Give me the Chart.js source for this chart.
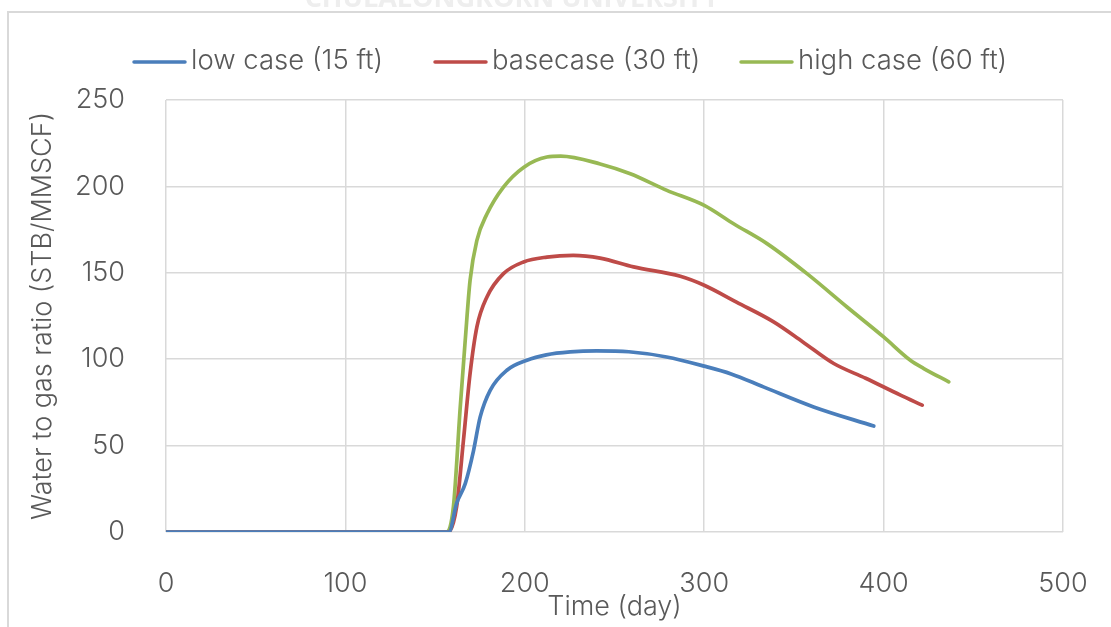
<!DOCTYPE html>
<html>
<head>
<meta charset="utf-8">
<script src="https://cdn.jsdelivr.net/npm/chart.js@4.4.1/dist/chart.umd.min.js"></script>
<style>
  html, body { margin: 0; padding: 0; background: #ffffff; overflow: hidden; }
  #wrap { width: 1111px; height: 627px; position: relative; }
  canvas { display: block; }
</style>
</head>
<body>
<div id="wrap"><canvas id="wgr" width="1111" height="627"></canvas></div>
<script>
// Water-to-gas ratio versus time for three fracture half-length cases
const seriesNames = ['low case (15 ft)', 'basecase (30 ft)', 'high case (60 ft)'];
const seriesColors = ['#4A7EBB', '#BE4B48', '#98B954'];

const lowDays = [0, 60, 120, 157.7, 162, 166.8, 171.4, 175.1, 180.7, 190, 201.2, 212, 225.3, 240, 258, 279, 300, 315, 333, 361, 394.5];
const lowWgr  = [0, 0, 0, 0, 16.6, 28, 47, 66.5, 82, 93.6, 99.4, 102.5, 104.2, 104.8, 104.3, 101.3, 96, 91.5, 84, 72.4, 61.3];

const baseDays = [0, 60, 120, 157.5, 162, 165.8, 169.5, 173.3, 178.9, 188.1, 199.3, 212.3, 227, 242, 260.6, 286.7, 300, 318, 338.7, 355, 372.2, 390, 409.4, 421.5];
const baseWgr  = [0, 0, 0, 0, 14.6, 53, 91.7, 118.7, 136, 149.5, 156.3, 159.1, 160.1, 158.5, 153.4, 148, 142.8, 133, 121.6, 110, 97.5, 89, 79.2, 73.4];

const highDays = [0, 60, 120, 156.5, 160.2, 164, 166.8, 169.5, 173.3, 178.9, 188.1, 199.3, 212.3, 220, 242, 258.8, 279.2, 300, 316.4, 335, 357.3, 379.6, 400, 414.9, 422.4, 436.3];
const highWgr  = [0, 0, 0, 0, 14.6, 72, 111, 145.7, 168.8, 184, 199.6, 211, 217, 217.5, 213, 207.3, 197.7, 189, 178.4, 166.9, 149.5, 130.2, 112.9, 99.4, 94.6, 86.9];

const xTicks = [0, 100, 200, 300, 400, 500];
const yTicks = [0, 50, 100, 150, 200, 250];

const xTitle = 'Time (day)';
const yTitle = 'Water to gas ratio (STB/MMSCF)';
const watermark = 'CHULALONGKORN UNIVERSITY';

const FONT = "Inter, 'Open Sans', 'Liberation Sans', sans-serif";
const FONT_SIZE = 27;
const LEGEND_FONT_SIZE = 27.5;
const TEXT_COLOR = '#595959';
const GRID_COLOR = '#D9D9D9';

function toPoints(days, vals) {
  return days.map((d, i) => ({ x: d, y: vals[i] }));
}

const seriesPoints = [
  toPoints(lowDays, lowWgr),
  toPoints(baseDays, baseWgr),
  toPoints(highDays, highWgr)
];

// Page frame, faint heading and the legend row
const decorPlugin = {
  id: 'decor',
  beforeDraw(chart) {
    const ctx = chart.ctx;
    ctx.save();
    ctx.fillStyle = '#ffffff';
    ctx.fillRect(0, 0, chart.width, chart.height);

    ctx.font = "bold 27px 'Open Sans', sans-serif";
    ctx.fillStyle = '#EEEEEE';
    ctx.textAlign = 'center';
    ctx.textBaseline = 'alphabetic';
    ctx.fillText(watermark, 512, 7);

    ctx.strokeStyle = GRID_COLOR;
    ctx.lineWidth = 2;
    ctx.beginPath();
    ctx.moveTo(8, chart.height);
    ctx.lineTo(8, 12);
    ctx.lineTo(chart.width, 12);
    ctx.stroke();
    ctx.restore();
  },
  afterDraw(chart) {
    const ctx = chart.ctx;
    const starts = [133, 434, 740];
    const yMid = 61;
    ctx.save();
    ctx.font = "300 " + LEGEND_FONT_SIZE + "px " + FONT;
    ctx.textBaseline = 'middle';
    ctx.textAlign = 'left';
    chart.data.datasets.forEach((ds, i) => {
      const x0 = starts[i];
      ctx.strokeStyle = ds.borderColor;
      ctx.lineWidth = 3.5;
      ctx.lineCap = 'round';
      ctx.beginPath();
      ctx.moveTo(x0 + 1, yMid + 1);
      ctx.lineTo(x0 + 52, yMid + 1);
      ctx.stroke();
      ctx.fillStyle = TEXT_COLOR;
      ctx.fillText(ds.label, x0 + 58, yMid);
    });
    ctx.restore();
  }
};

const axisFont = { family: FONT, size: FONT_SIZE, weight: '300' };

const chart = new Chart(document.getElementById('wgr'), {
  type: 'line',
  data: {
    datasets: seriesNames.map((name, i) => ({
      label: name,
      data: seriesPoints[i],
      borderColor: seriesColors[i],
      backgroundColor: seriesColors[i],
      borderWidth: 3.7,
      borderCapStyle: 'round',
      borderJoinStyle: 'round',
      pointRadius: 0,
      pointHoverRadius: 0,
      fill: false,
      cubicInterpolationMode: 'monotone'
    }))
  },
  options: {
    responsive: false,
    animation: false,
    devicePixelRatio: 1,
    layout: { padding: { top: 100, right: 48, bottom: 0, left: 0 } },
    plugins: {
      legend: { display: false },
      tooltip: { enabled: false },
      title: { display: false }
    },
    scales: {
      x: {
        type: 'linear',
        min: 0,
        max: 500,
        afterBuildTicks(scale) { scale.ticks = xTicks.map(v => ({ value: v })); },
        afterFit(scale) {
          scale.height = 95;
          scale.paddingLeft = 0;
          scale.paddingRight = 0;
        },
        border: { display: false },
        grid: { color: GRID_COLOR, lineWidth: 1.5, drawTicks: false },
        ticks: {
          padding: 36,
          color: TEXT_COLOR,
          font: axisFont,
          maxRotation: 0
        },
        title: {
          display: true,
          text: xTitle,
          color: TEXT_COLOR,
          font: axisFont,
          padding: { top: 0, bottom: 4 }
        }
      },
      y: {
        type: 'linear',
        min: 0,
        max: 250,
        afterBuildTicks(scale) { scale.ticks = yTicks.map(v => ({ value: v })); },
        afterFit(scale) { scale.width = 166; },
        border: { display: false },
        grid: { color: GRID_COLOR, lineWidth: 1.5, drawTicks: false },
        ticks: {
          padding: 41,
          color: TEXT_COLOR,
          font: axisFont
        },
        title: {
          display: true,
          text: yTitle,
          color: TEXT_COLOR,
          font: axisFont,
          padding: { top: 27, bottom: 0 }
        }
      }
    }
  },
  plugins: [decorPlugin]
});
</script>
</body>
</html>
